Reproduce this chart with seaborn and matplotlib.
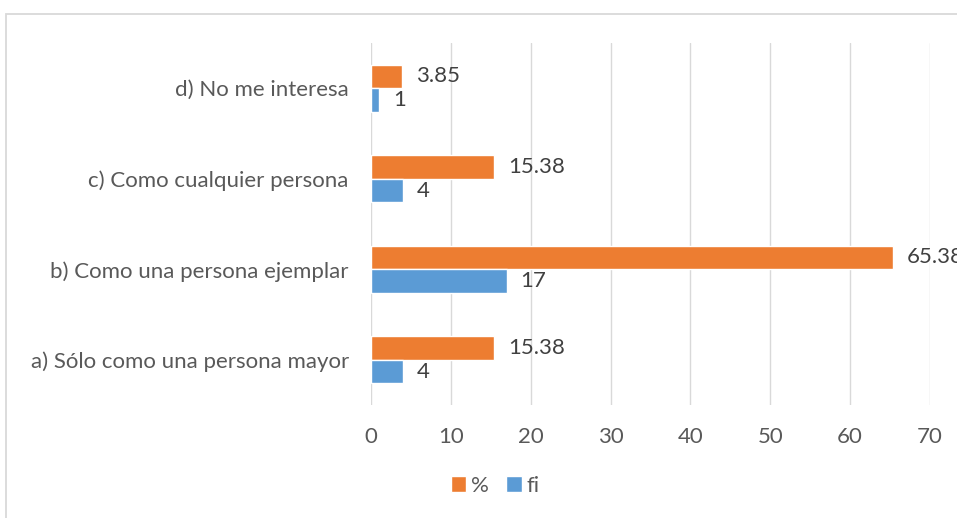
import matplotlib
matplotlib.use("Agg")
import matplotlib.pyplot as plt
from matplotlib.patches import Rectangle
import seaborn as sns
import pandas as pd

# chart data, top to bottom as shown
categories = ["d) No me interesa", "c) Como cualquier persona",
              "b) Como una persona ejemplar", "a) Sólo como una persona mayor"]
pct = [3.85, 15.38, 65.38, 15.38]
fi = [1, 4, 17, 4]
series = ["%", "fi"]
x_ticks = [0, 10, 20, 30, 40, 50, 60, 70]

df = pd.DataFrame({
    "categoria": categories * 2,
    "valor": pct + fi,
    "serie": [series[0]] * len(categories) + [series[1]] * len(categories),
})

sns.set_theme(style="white")
plt.rcParams["font.family"] = ["Lato", "DejaVu Sans"]

fig = plt.figure(figsize=(9.57, 5.18), dpi=100)
ax = fig.add_axes([371 / 957, 1 - 405 / 518, (930 - 371) / 957, (405 - 43) / 518])

# outer chart frame (cropped on the right and bottom)
fig.patches.append(Rectangle((6 / 957, -0.1), 1.2, 1 - 14 / 518 + 0.1,
                             transform=fig.transFigure, fill=False,
                             edgecolor="#d9d9d9", linewidth=1.3))

sns.barplot(data=df, y="categoria", x="valor", hue="serie", order=categories,
            hue_order=series, palette=["#ed7d31", "#5b9bd5"], width=0.52,
            saturation=1, orient="h", ax=ax, legend=True)

for cont, fmt in zip(ax.containers, ["%.2f", "%g"]):
    ax.bar_label(cont, fmt=fmt, padding=10, fontsize=16, color="#404040")

ax.set_xlim(0, 70)
ax.set_ylim(3.5, -0.5)
ax.set_xticks(x_ticks)
ax.grid(axis="x", color="#d9d9d9", linewidth=1)
ax.set_axisbelow(True)
for s in ax.spines.values():
    s.set_visible(False)
ax.tick_params(axis="both", length=0, labelsize=16, labelcolor="#595959")
ax.tick_params(axis="x", pad=16)
ax.tick_params(axis="y", pad=16)
ax.set_xlabel("")
ax.set_ylabel("")

ax.legend(loc="center", bbox_to_anchor=(495 / 957, 1 - 486 / 518),
          bbox_transform=fig.transFigure, ncol=2, frameon=False, fontsize=16,
          handlelength=0.7, handleheight=0.7, handletextpad=0.2, columnspacing=0.8,
          labelcolor="#595959")

fig.savefig("out.png", dpi=100)
